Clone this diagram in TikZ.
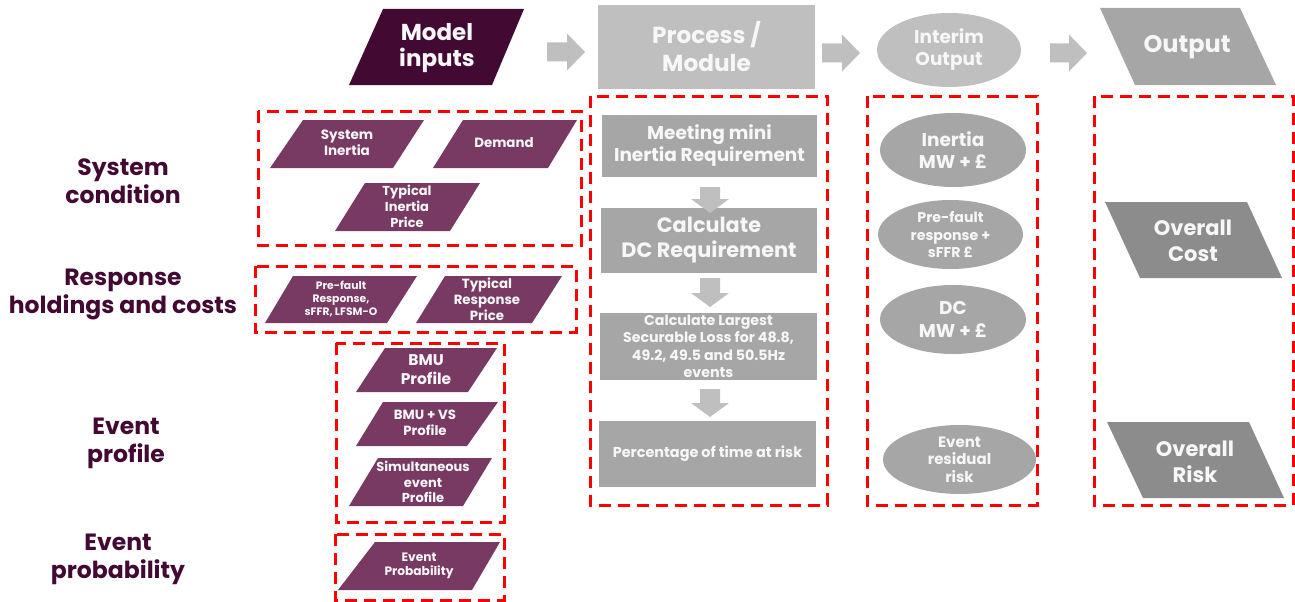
\documentclass[tikz,border=0pt]{standalone}
\usepackage{fontspec}
\setmainfont{Poppins}
\usetikzlibrary{shapes.geometric}
\definecolor{plum}{HTML}{420A33}
\definecolor{mauve}{HTML}{783A63}
\definecolor{lightgrey}{HTML}{BFBFBF}
\definecolor{midgrey}{HTML}{A6A6A6}
\definecolor{darkgrey}{HTML}{8C8C8C}
\definecolor{softwhite}{HTML}{F7F7F7}
% parallelogram: fill, top-left x, top-right x, top y, bottom-left x, bottom-right x, bottom y
\newcommand{\slab}[7]{\fill[#1] (#2,#4) -- (#3,#4) -- (#6,#7) -- (#5,#7) -- cycle;}
% block arrow pointing right: tail x, tip x, centre y
\newcommand{\blockright}[3]{\fill[lightgrey] (#1,#3-9.5) -- (#2-18,#3-9.5) -- (#2-18,#3-18.5) -- (#2,#3) -- (#2-18,#3+18.5) -- (#2-18,#3+9.5) -- (#1,#3+9.5) -- cycle;}
% block arrow pointing down: centre x, tail y, tip y
\newcommand{\blockdown}[3]{\fill[lightgrey] (#1-10,#2) -- (#1+10,#2) -- (#1+10,#3-14) -- (#1+19,#3-14) -- (#1,#3) -- (#1-19,#3-14) -- (#1-10,#3-14) -- cycle;}
\begin{document}
\begin{tikzpicture}[x=1pt,y=-1pt,
  sz/.style 2 args={font=\fontsize{#1}{#2}\selectfont\bfseries},
  txt/.style={align=center, inner sep=0pt, text=softwhite},
  lbl/.style={align=center, inner sep=0pt, text=plum, sz={23.5}{28}},
  group/.style={draw=red, line width=3pt, dash pattern=on 12pt off 7pt},
  stepbox/.style={rectangle, fill=midgrey, inner sep=0pt, align=center, text=softwhite},
  interim/.style={ellipse, fill=midgrey, inner sep=0pt, align=center, text=softwhite}]
\useasboundingbox (0,0) rectangle (1295,602);

% ---- header row ----
\slab{plum}{383}{524}{9}{349}{492}{85}
\node[txt, sz={23}{25.5}] (hinputs) at (437,48) {Model\\inputs};
\blockright{547}{585}{52}
\node[stepbox, fill=lightgrey, minimum width=217pt, minimum height=84pt, sz={23.2}{28}] (hprocess) at (706.5,47) {Process /\\Module};
\blockright{822}{860}{53}
\node[interim, fill=lightgrey, minimum width=144pt, minimum height=74pt, sz={18.5}{22}] (hinterim) at (949,50) {Interim\\Output};
\blockright{1050}{1087}{53}
\slab{midgrey}{1100}{1240}{8}{1135}{1276}{85}
\node[txt, sz={24}{28}] (houtput) at (1187,47) {Output};

% ---- row labels ----
\node[lbl] (lsystem) at (123,181) {System\\condition};
\node[lbl] (lresponse) at (123,294) {Response\\holdings and costs};
\node[lbl] (lprofile) at (126,443) {Event\\profile};
\node[lbl] (lprob) at (118,559) {Event\\probability};

% ---- model inputs ----
\draw[group] (258,111) rectangle (581,245);
\slab{mauve}{303}{424}{120}{270}{393}{168}
\node[txt, sz={13.5}{16}] (sysinertia) at (347,143) {System\\Inertia};
\slab{mauve}{463}{577}{120}{433}{548}{168}
\node[txt, sz={13.4}{16}] (demand) at (504,143) {Demand};
\slab{mauve}{365}{480}{183}{335}{450}{231}
\node[txt, sz={13}{16}] (inprice) at (407,206) {Typical\\Inertia\\Price};

\draw[group] (255,266) rectangle (576,332);
\slab{mauve}{293}{417}{276}{265}{387}{323}
\node[txt, sz={10.8}{13.2}] (prefault) at (341,299) {Pre-fault\\Response,\\sFFR, LFSM-O};
\slab{mauve}{445}{562}{276}{416}{532}{323}
\node[txt, sz={13.3}{16}] (resprice) at (487,299) {Typical\\Response\\Price};

\draw[group] (336,343) rectangle (504,522);
\slab{mauve}{385}{497}{348}{356}{468}{392}
\node[txt, sz={15.5}{19}] (bmu) at (426,370) {BMU\\Profile};
\slab{mauve}{383}{498}{402}{356}{467}{446}
\node[txt, sz={13.3}{16}] (bmuvs) at (425,423) {BMU + VS\\Profile};
\slab{mauve}{378}{492}{458}{349}{463}{506}
\node[txt, sz={13}{15.8}] (simul) at (423,482) {Simultaneous\\event\\Profile};

\draw[group] (335,534) rectangle (504,600);
\slab{mauve}{375}{500}{542}{338}{472}{590}
\node[txt, sz={12.2}{14.5}] (evprob) at (419,566) {Event\\Probability};

% ---- process / module ----
\draw[group] (590,96) rectangle (827,505);
\node[stepbox, minimum width=215pt, minimum height=62pt, sz={18.5}{22}] (meet) at (709.5,146) {Meeting mini\\Inertia Requirement};
\node[stepbox, minimum width=216pt, minimum height=65pt, sz={20.8}{25}] (calcdc) at (709,240.5) {Calculate\\DC Requirement};
\node[stepbox, minimum width=217pt, minimum height=67pt, sz={14.2}{17.5}] (lsl) at (708.5,346.5) {Calculate Largest\\Securable Loss for 48.8,\\49.2, 49.5 and 50.5Hz\\events};
\node[stepbox, minimum width=217pt, minimum height=66pt, sz={14.4}{17.5}] (risk) at (707.5,454) {Percentage of time at risk};
\blockdown{710}{187}{213}
\blockdown{710}{278}{307}
\blockdown{710}{389}{417}

% ---- interim output ----
\draw[group] (867,96) rectangle (1037,505);
\node[interim, minimum width=146pt, minimum height=74pt, sz={18.5}{22.5}] (inertia) at (953,150) {Inertia\\MW + £};
\node[interim, minimum width=145pt, minimum height=69pt, sz={14.2}{17.5}] (respcost) at (950.5,234.5) {Pre-fault\\response +\\sFFR £};
\node[interim, minimum width=146pt, minimum height=69pt, sz={18.5}{22.5}] (dc) at (953,319.5) {DC\\MW + £};
\node[interim, minimum width=153pt, minimum height=69pt, sz={15}{17.5}] (residual) at (959.5,459.5) {Event\\residual\\risk};

% ---- output ----
\draw[group] (1094,96) rectangle (1293,505);
\slab{darkgrey}{1105}{1247}{202}{1140}{1282}{278}
\node[txt, sz={21}{25.5}] (cost) at (1193,241) {Overall\\Cost};
\slab{darkgrey}{1107}{1249}{422}{1143}{1284}{498}
\node[txt, sz={21}{25.5}] (overallrisk) at (1195,462) {Overall\\Risk};
\end{tikzpicture}
\end{document}
